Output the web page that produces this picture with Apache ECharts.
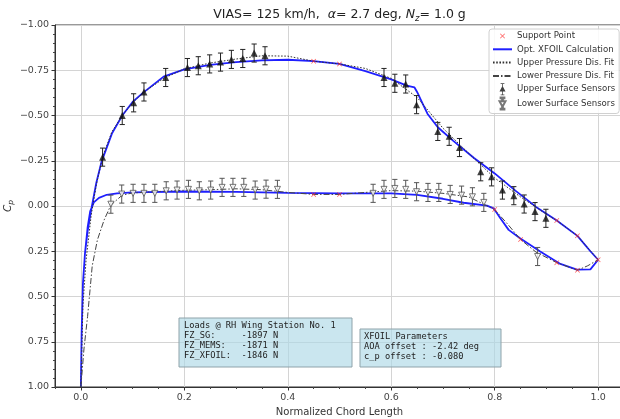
<!DOCTYPE html>
<html><head><meta charset="utf-8">
<script src="https://cdn.jsdelivr.net/npm/echarts@6/dist/echarts.min.js"></script>
<style>html,body{margin:0;padding:0;background:#fff}#c{width:620px;height:419px}</style>
</head><body><div id="c"></div>
<script>
// ---------- data ----------
const upperSensorX  = [0.042,0.080,0.102,0.122,0.164,0.206,0.227,0.249,0.270,0.291,0.313,0.335,0.356,
                       0.586,0.607,0.628,0.649,0.690,0.712,0.732,0.773,0.794,0.815,0.837,0.857,0.878,0.899];
const upperSensorCp = [-0.27,-0.50,-0.57,-0.63,-0.71,-0.765,-0.775,-0.785,-0.795,-0.81,-0.815,-0.845,-0.83,
                       -0.71,-0.678,-0.674,-0.56,-0.412,-0.385,-0.323,-0.189,-0.161,-0.088,-0.057,-0.011,0.031,0.068];
const upperSensorErr = [0.05,0.05,0.05,0.05,0.05,0.05,0.05,0.05,0.05,0.05,0.05,0.05,0.05,
                        0.05,0.05,0.05,0.05,0.05,0.05,0.05,0.05,0.05,0.05,0.05,0.05,0.05,0.05];

const lowerSensorX  = [0.058,0.079,0.101,0.122,0.143,0.165,0.186,0.208,0.229,0.251,0.273,0.294,0.315,0.337,0.358,0.380,
                       0.565,0.586,0.607,0.628,0.649,0.671,0.692,0.714,0.736,0.757,0.779,0.883];
const lowerSensorCp = [-0.01,-0.066,-0.07,-0.07,-0.07,-0.084,-0.088,-0.092,-0.084,-0.088,-0.103,-0.103,-0.103,-0.088,-0.093,-0.092,
                       -0.07,-0.092,-0.097,-0.092,-0.079,-0.075,-0.075,-0.064,-0.06,-0.051,-0.02,0.279];
const lowerSensorErr = [0.05,0.05,0.05,0.05,0.05,0.05,0.05,0.05,0.05,0.05,0.05,0.05,0.05,0.05,0.05,0.05,
                        0.05,0.05,0.05,0.05,0.05,0.05,0.05,0.05,0.05,0.05,0.05,0.05];

const supportX  = [0.45,0.50,0.92,0.96,1.00, 0.45,0.50,0.80,0.85,0.92,0.96];
const supportCp = [-0.80,-0.785,0.08,0.165,0.297, -0.064,-0.064,0.02,0.185,0.313,0.355];

// XFOIL: trailing edge -> upper surface -> leading edge -> lower surface -> trailing edge
const xfoilX  = [1.0,0.985,0.96,0.92,0.88,0.84,0.80,0.76,0.72,0.69,0.67,0.66,0.65,0.645,0.63,0.60,0.55,0.50,0.45,0.40,0.35,0.30,0.25,0.20,0.16,0.12,0.10,0.08,0.06,0.04,0.03,0.02,0.013,0.008,0.004,0.0015,0.0,
                 0.0015,0.004,0.008,0.013,0.018,0.025,0.035,0.05,0.07,0.10,0.20,0.30,0.40,0.50,0.60,0.65,0.70,0.74,0.785,0.798,0.811,0.827,0.849,0.888,0.927,0.959,0.985,1.0];
const xfoilCp = [0.297,0.25,0.165,0.08,0.005,-0.085,-0.18,-0.265,-0.36,-0.435,-0.51,-0.57,-0.63,-0.655,-0.665,-0.70,-0.745,-0.785,-0.80,-0.808,-0.805,-0.795,-0.78,-0.755,-0.715,-0.625,-0.575,-0.50,-0.40,-0.245,-0.13,0.02,0.14,0.26,0.43,0.7,1.0,
                 0.7,0.43,0.26,0.12,0.03,-0.02,-0.045,-0.062,-0.07,-0.075,-0.08,-0.078,-0.073,-0.07,-0.07,-0.062,-0.04,-0.018,-0.002,0.013,0.068,0.132,0.178,0.251,0.32,0.352,0.35,0.297];

const upperFitX  = [0.0,0.004,0.01,0.02,0.03,0.042,0.06,0.08,0.10,0.12,0.16,0.20,0.25,0.30,0.35,0.40,0.45,0.50,0.55,0.60,0.65,0.70,0.75,0.80,0.85,0.90,0.92,0.96,1.0];
const upperFitCp = [1.0,0.55,0.30,0.05,-0.12,-0.27,-0.41,-0.50,-0.57,-0.625,-0.705,-0.758,-0.79,-0.812,-0.83,-0.828,-0.80,-0.785,-0.76,-0.705,-0.60,-0.43,-0.29,-0.155,-0.05,0.045,0.08,0.165,0.297];

const lowerFitX  = [0.0,0.006,0.013,0.022,0.032,0.045,0.058,0.08,0.10,0.15,0.20,0.25,0.30,0.35,0.40,0.45,0.50,0.55,0.60,0.65,0.70,0.75,0.80,0.825,0.85,0.88,0.92,0.96,0.98,1.0];
const lowerFitCp = [1.0,0.79,0.61,0.33,0.187,0.077,-0.005,-0.06,-0.072,-0.08,-0.087,-0.09,-0.095,-0.09,-0.075,-0.064,-0.064,-0.075,-0.085,-0.082,-0.07,-0.05,0.02,0.10,0.185,0.255,0.313,0.355,0.33,0.297];

const xTickValues  = [0.0,0.2,0.4,0.6,0.8,1.0];
const xMinorValues = [-0.05,0.05,0.10,0.15,0.25,0.30,0.35,0.45,0.50,0.55,0.65,0.70,0.75,0.85,0.90,0.95,1.05];

const loadsText = ['Loads @ RH Wing Station No. 1','FZ_SG:     -1897 N','FZ_MEMS:   -1871 N','FZ_XFOIL:  -1846 N'];
const xfoilText = ['XFOIL Parameters','AOA offset : -2.42 deg','c_p offset : -0.080'];

// ---------- helpers ----------
const zip = (xs, ys) => xs.map((x, i) => [x, ys[i]]);
const zip3 = (xs, ys, es) => xs.map((x, i) => [x, ys[i], es[i]]);
function errRender(color) {
  return function (params, api) {
    const x = api.value(0), y = api.value(1), e = api.value(2);
    const p1 = api.coord([x, y - e]), p2 = api.coord([x, y + e]);
    const cw = 2.6, st = { stroke: color, lineWidth: 1 };
    return { type: 'group', children: [
      { type: 'line', shape: { x1: p1[0], y1: p1[1], x2: p2[0], y2: p2[1] }, style: st },
      { type: 'line', shape: { x1: p1[0] - cw, y1: p1[1], x2: p1[0] + cw, y2: p1[1] }, style: st },
      { type: 'line', shape: { x1: p2[0] - cw, y1: p2[1], x2: p2[0] + cw, y2: p2[1] }, style: st }
    ]};
  };
}
const FONT = 'DejaVu Sans';
const MONO = 'DejaVu Sans Mono';
const xPath = 'path://M1,0 L5,4 L9,0 L10,1 L6,5 L10,9 L9,10 L5,6 L1,10 L0,9 L4,5 L0,1 Z';
const xLegendIcon = 'path://M0,0 L0.01,0 L0.01,0.01 Z M24,24 L23.99,24 L23.99,23.99 Z M8,7 L12,11 L16,7 L17,8 L13,12 L17,16 L16,17 L12,13 L8,17 L7,16 L11,12 L7,8 Z';
const upIcon = 'path://M2.5,0 H7.5 V1 H5.5 V4.5 L9,11 H5.5 V15 H7.5 V16 H2.5 V15 H4.5 V11 H1 L4.5,4.5 V1 H2.5 Z';
const downIcon = 'path://M2.5,0 H7.5 V1 H5.5 V5 H9 L5.5,11.5 V15 H7.5 V16 H2.5 V15 H4.5 V11.5 L1,5 H4.5 V1 H2.5 Z';
const noSym = { opacity: 0 };

const chart = echarts.init(document.getElementById('c'), null, { renderer: 'canvas' });
const option = {
  animation: false,
  backgroundColor: '#fff',
  title: {
    text: '{n|VIAS= 125 km/h,  }{i|α}{n|= 2.7 deg, }{i|N}{s|z}{n|= 1.0 g}',
    left: 339.5, top: 7, textAlign: 'center', padding: 0,
    textStyle: {
      fontWeight: 'normal',
      rich: {
        n: { fontFamily: FONT, fontSize: 12.5, fontWeight: 'normal', color: '#222' },
        i: { fontFamily: FONT, fontSize: 12.5, fontWeight: 'normal', fontStyle: 'italic', color: '#222' },
        s: { fontFamily: FONT, fontSize: 8.5, fontWeight: 'normal', fontStyle: 'italic', color: '#222', padding: [7, 0, 0, 0] }
      }
    }
  },
  grid: { left: 55, top: 25, width: 569, height: 362, outerBoundsMode: 'none', containLabel: false,
          show: true, borderColor: '#333', borderWidth: 1, backgroundColor: 'transparent' },
  legend: {
    orient: 'vertical', left: 489, top: 29, padding: [1, 4, 3, 3],
    itemWidth: 19, itemHeight: 12, itemGap: 1.3,
    backgroundColor: 'rgba(255,255,255,0.85)', borderColor: '#d0d0d0', borderWidth: 1, borderRadius: 3,
    textStyle: { fontFamily: FONT, fontSize: 8.6, color: '#333', lineHeight: 12 },
    data: [
      { name: 'Support Point', icon: xLegendIcon },
      { name: 'Opt. XFOIL Calculation', itemStyle: noSym },
      { name: 'Upper Pressure Dis. Fit', itemStyle: noSym },
      { name: 'Lower Pressure Dis. Fit', itemStyle: noSym },
      { name: 'Upper Surface Sensors', icon: upIcon },
      { name: 'Lower Surface Sensors', icon: downIcon }
    ]
  },
  xAxis: [{
    type: 'value', min: -0.05, max: 1.05,
    name: 'Normalized Chord Length', nameLocation: 'middle', nameGap: 20,
    nameTextStyle: { fontFamily: FONT, fontSize: 10, color: '#333' },
    axisLine: { show: true, onZero: false, lineStyle: { color: '#333', width: 1 } },
    axisTick: { show: true, customValues: xTickValues, length: 3.5, lineStyle: { color: '#333' } },
    axisLabel: { customValues: xTickValues, margin: 6, fontFamily: FONT, fontSize: 9.5, color: '#444', formatter: v => v.toFixed(1) },
    splitLine: { show: true, lineStyle: { color: '#d4d4d4', width: 1 } }
  }, {
    type: 'value', min: -0.05, max: 1.05, position: 'bottom', gridIndex: 0,
    axisLine: { show: false, onZero: false },
    axisTick: { show: true, customValues: xMinorValues, length: 2, lineStyle: { color: '#444' } },
    axisLabel: { show: false, customValues: xMinorValues },
    splitLine: { show: false }
  }],
  yAxis: {
    type: 'value', min: -1, max: 1, interval: 0.25, inverse: true,
    name: '{i|C}{s|p}', nameLocation: 'middle', nameGap: 40, nameMoveOverlap: false,
    nameTextStyle: { rich: {
      i: { fontFamily: FONT, fontSize: 10.5, fontStyle: 'italic', color: '#333' },
      s: { fontFamily: FONT, fontSize: 7.5, fontStyle: 'italic', color: '#333', padding: [5, 0, 0, 0] }
    } },
    axisLine: { show: true, onZero: false, lineStyle: { color: '#333', width: 1 } },
    axisTick: { show: true, length: 3.5, lineStyle: { color: '#333' } },
    minorTick: { show: true, splitNumber: 5, length: 2, lineStyle: { color: '#444' } },
    axisLabel: { margin: 6, fontFamily: FONT, fontSize: 9.5, color: '#444',
      formatter: v => (v < 0 ? '\u2212' : '') + Math.abs(v).toFixed(2) },
    splitLine: { show: true, lineStyle: { color: '#d4d4d4', width: 1 } }
  },
  series: [
    { name: 'Opt. XFOIL Calculation', type: 'line', data: zip(xfoilX, xfoilCp), symbol: 'none', showSymbol: false,
      lineStyle: { color: '#1f1fff', width: 1.8 }, itemStyle: { color: '#1f1fff' }, z: 2 },
    { name: 'Upper Pressure Dis. Fit', type: 'line', data: zip(upperFitX, upperFitCp), symbol: 'none', showSymbol: false,
      lineStyle: { color: '#333', width: 1, type: [1.6, 1.6] }, itemStyle: { color: '#333' }, z: 3 },
    { name: 'Lower Pressure Dis. Fit', type: 'line', data: zip(lowerFitX, lowerFitCp), symbol: 'none', showSymbol: false,
      lineStyle: { color: '#444', width: 1, type: [6, 2, 1.5, 2] }, itemStyle: { color: '#444' }, z: 3 },
    { name: 'Support Point', type: 'scatter', data: zip(supportX, supportCp), symbol: xPath, symbolSize: 5,
      itemStyle: { color: '#ff3030' }, z: 4 },
    { type: 'custom', data: zip3(upperSensorX, upperSensorCp, upperSensorErr), renderItem: errRender('#222'),
      encode: { x: 0, y: 1 }, z: 5, silent: true },
    { type: 'custom', data: zip3(lowerSensorX, lowerSensorCp, lowerSensorErr), renderItem: errRender('#555'),
      encode: { x: 0, y: 1 }, z: 5, silent: true },
    { name: 'Upper Surface Sensors', type: 'scatter', data: zip(upperSensorX, upperSensorCp), symbol: 'triangle', symbolSize: 7,
      itemStyle: { color: '#111' }, z: 6 },
    { name: 'Lower Surface Sensors', type: 'scatter', data: zip(lowerSensorX, lowerSensorCp), symbol: 'triangle', symbolRotate: 180, symbolSize: 6,
      itemStyle: { color: '#fff', borderColor: '#555', borderWidth: 1 }, z: 6 }
  ],
  graphic: [
    { type: 'rect', shape: { x: 179, y: 318, width: 173, height: 49 }, z: 100,
      style: { fill: 'rgba(173,216,230,0.65)', stroke: '#8fa3aa', lineWidth: 1 } },
    { type: 'text', x: 184, y: 321, z: 101,
      style: { text: loadsText.join('\n'), font: '8.7px "' + MONO + '"', fill: '#222', lineHeight: 10, verticalAlign: 'top' } },
    { type: 'rect', shape: { x: 360, y: 329, width: 141, height: 38 }, z: 100,
      style: { fill: 'rgba(173,216,230,0.65)', stroke: '#8fa3aa', lineWidth: 1 } },
    { type: 'text', x: 364, y: 331.5, z: 101,
      style: { text: xfoilText.join('\n'), font: '8.7px "' + MONO + '"', fill: '#222', lineHeight: 10, verticalAlign: 'top' } }
  ]
};
chart.setOption(option);
</script></body></html>
